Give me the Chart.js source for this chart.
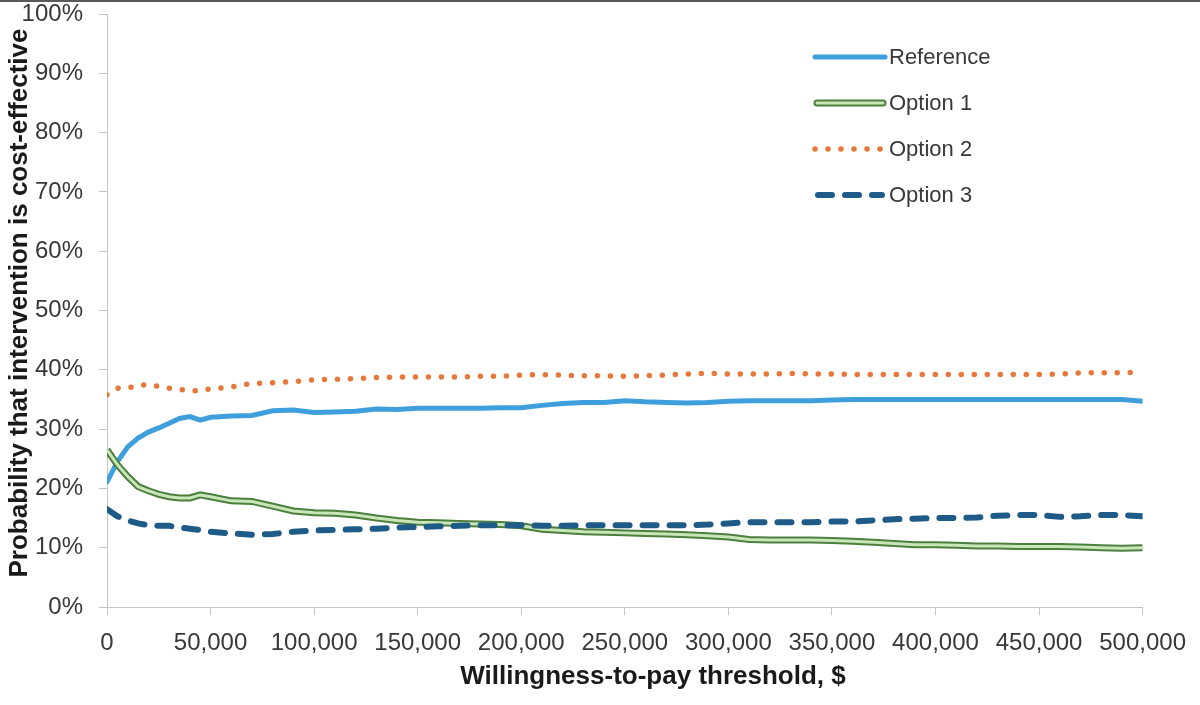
<!DOCTYPE html>
<html>
<head>
<meta charset="utf-8">
<script src="https://cdn.jsdelivr.net/npm/chart.js@4.4.1/dist/chart.umd.min.js"></script>
<style>
  html, body { margin: 0; padding: 0; background: #ffffff; }
  #wrap { width: 1200px; height: 705px; }
</style>
</head>
<body>
<div id="wrap"><canvas id="ceacChart" width="1200" height="705"></canvas></div>
<script>
// WTP thresholds ($) and probability (%) that each option is cost-effective
const wtpThresholds = [
    0, 5000, 10000, 15000, 20000, 25000, 30000, 35000, 40000, 45000,
    50000, 60000, 70000, 80000, 90000, 100000, 110000, 120000, 130000, 140000,
    150000, 160000, 170000, 180000, 190000, 200000, 210000, 220000, 230000, 240000,
    250000, 260000, 270000, 280000, 290000, 300000, 310000, 320000, 330000, 340000,
    350000, 360000, 370000, 380000, 390000, 400000, 410000, 420000, 430000, 440000,
    450000, 460000, 470000, 480000, 490000, 500000
];

const referenceProb = [
    21.1, 24.5, 27.0, 28.5, 29.5, 30.2, 31.0, 31.8, 32.1, 31.5,
    32.0, 32.2, 32.3, 33.1, 33.2, 32.8, 32.9, 33.0, 33.4, 33.3,
    33.5, 33.5, 33.5, 33.5, 33.6, 33.6, 34.0, 34.3, 34.5, 34.5,
    34.8, 34.6, 34.5, 34.4, 34.5, 34.7, 34.8, 34.8, 34.8, 34.8,
    34.9, 35.0, 35.0, 35.0, 35.0, 35.0, 35.0, 35.0, 35.0, 35.0,
    35.0, 35.0, 35.0, 35.0, 35.0, 34.7
];

const option1Prob = [
    26.5, 24.0, 22.0, 20.3, 19.6, 19.0, 18.6, 18.4, 18.4, 18.9,
    18.6, 17.9, 17.8, 17.0, 16.2, 15.9, 15.8, 15.5, 15.0, 14.6,
    14.3, 14.2, 14.1, 14.0, 13.9, 13.7, 13.1, 12.9, 12.7, 12.6,
    12.5, 12.4, 12.3, 12.2, 12.0, 11.8, 11.4, 11.3, 11.3, 11.3,
    11.2, 11.1, 10.9, 10.7, 10.5, 10.5, 10.4, 10.3, 10.3, 10.2,
    10.2, 10.2, 10.1, 10.0, 9.9, 10.0
];

const option2Prob = [
    35.8, 36.9, 36.9, 37.4, 37.5, 37.2, 36.9, 36.7, 36.4, 36.5,
    36.8, 37.1, 37.7, 37.8, 38.0, 38.3, 38.4, 38.5, 38.7, 38.8,
    38.8, 38.8, 38.8, 38.9, 38.9, 39.1, 39.2, 39.1, 39.0, 39.0,
    38.9, 39.0, 39.1, 39.3, 39.4, 39.3, 39.3, 39.3, 39.4, 39.3,
    39.3, 39.2, 39.2, 39.2, 39.2, 39.2, 39.2, 39.2, 39.2, 39.2,
    39.2, 39.3, 39.5, 39.5, 39.5, 39.6
];

const option3Prob = [
    16.5, 15.3, 14.6, 14.1, 13.8, 13.7, 13.7, 13.4, 13.2, 13.0,
    12.7, 12.4, 12.2, 12.3, 12.7, 12.9, 13.0, 13.1, 13.2, 13.4,
    13.5, 13.6, 13.7, 13.8, 13.8, 13.8, 13.7, 13.7, 13.8, 13.8,
    13.8, 13.8, 13.8, 13.8, 13.9, 14.1, 14.3, 14.3, 14.3, 14.3,
    14.4, 14.4, 14.6, 14.8, 14.9, 15.0, 15.0, 15.1, 15.4, 15.5,
    15.5, 15.2, 15.3, 15.5, 15.5, 15.3
];

const seriesNames = ['Reference', 'Option 1', 'Option 2', 'Option 3'];
const xAxisTitle = 'Willingness-to-pay threshold, $';
const yAxisTitle = 'Probability that intervention is cost-effective';

const colors = {
    reference: '#3f9fdc',
    opt1Outer: '#4c7f3e',
    opt1Inner: '#c9e6b8',
    opt2: '#e8773a',
    opt3: '#1f5b87',
    axis: '#c4c4c4',
    text: '#383838',
    title: '#1a1a1a'
};

const FONT = '"Liberation Sans", Arial, sans-serif';

function toPoints(values) {
    return wtpThresholds.map((x, i) => ({ x: x, y: values[i] }));
}

// top frame line + axis titles (placed like the Excel original)
const framePlugin = {
    id: 'frame',
    afterDraw(chart) {
        const ctx = chart.ctx;
        ctx.save();
        ctx.fillStyle = '#5a5a5a';
        ctx.fillRect(0, 0, chart.width, 2);

        ctx.fillStyle = colors.title;
        ctx.font = 'bold 26px ' + FONT;
        ctx.textAlign = 'center';
        ctx.textBaseline = 'middle';
        ctx.fillText(xAxisTitle, 653, 677);

        ctx.translate(20, 303);
        ctx.rotate(-Math.PI / 2);
        ctx.fillText(yAxisTitle, 0, 0);
        ctx.restore();
    }
};

// Excel-style legend sitting inside the plot area
const legendPlugin = {
    id: 'insideLegend',
    afterDatasetsDraw(chart) {
        const ctx = chart.ctx;
        const x0 = 815, x1 = 885, tx = 889;
        const rows = [57, 103, 149, 195];
        ctx.save();
        ctx.lineCap = 'round';

        // Reference
        ctx.strokeStyle = colors.reference;
        ctx.lineWidth = 5;
        ctx.setLineDash([]);
        ctx.beginPath(); ctx.moveTo(x0, rows[0]); ctx.lineTo(x1, rows[0]); ctx.stroke();

        // Option 1 (double line)
        ctx.strokeStyle = colors.opt1Outer;
        ctx.lineWidth = 7;
        ctx.beginPath(); ctx.moveTo(x0 + 2, rows[1]); ctx.lineTo(x1 - 2, rows[1]); ctx.stroke();
        ctx.strokeStyle = colors.opt1Inner;
        ctx.lineWidth = 3;
        ctx.beginPath(); ctx.moveTo(x0 + 2, rows[1]); ctx.lineTo(x1 - 2, rows[1]); ctx.stroke();

        // Option 2 (dots)
        ctx.strokeStyle = colors.opt2;
        ctx.lineWidth = 5.5;
        ctx.setLineDash([0, 13]);
        ctx.beginPath(); ctx.moveTo(x0, rows[2]); ctx.lineTo(x1, rows[2]); ctx.stroke();

        // Option 3 (dashes)
        ctx.strokeStyle = colors.opt3;
        ctx.lineWidth = 6;
        ctx.setLineDash([14, 13]);
        ctx.beginPath(); ctx.moveTo(x0 + 3, rows[3]); ctx.lineTo(x1 - 3, rows[3]); ctx.stroke();

        ctx.setLineDash([]);
        ctx.fillStyle = colors.text;
        ctx.font = '22px ' + FONT;
        ctx.textAlign = 'left';
        ctx.textBaseline = 'middle';
        seriesNames.forEach((name, i) => ctx.fillText(name, tx, rows[i] + 1));
        ctx.restore();
    }
};

function renderChart() {
    const ctx = document.getElementById('ceacChart').getContext('2d');

    new Chart(ctx, {
        type: 'line',
        data: {
            datasets: [
                {
                    label: 'Reference',
                    data: toPoints(referenceProb),
                    borderColor: colors.reference,
                    borderWidth: 5,
                    borderCapStyle: 'round',
                    order: 5
                },
                {
                    label: 'Option 1',
                    data: toPoints(option1Prob),
                    borderColor: colors.opt1Outer,
                    borderWidth: 7,
                    order: 4
                },
                {
                    label: 'Option 1 inner',
                    data: toPoints(option1Prob),
                    borderColor: colors.opt1Inner,
                    borderWidth: 3,
                    order: 3
                },
                {
                    label: 'Option 2',
                    data: toPoints(option2Prob),
                    borderColor: colors.opt2,
                    borderWidth: 5.5,
                    borderDash: [0, 13],
                    borderCapStyle: 'round',
                    order: 2
                },
                {
                    label: 'Option 3',
                    data: toPoints(option3Prob),
                    borderColor: colors.opt3,
                    borderWidth: 6,
                    borderDash: [14, 13],
                    borderCapStyle: 'round',
                    order: 1
                }
            ]
        },
        options: {
            responsive: false,
            animation: false,
            parsing: false,
            elements: {
                point: { radius: 0 },
                line: { tension: 0, fill: false }
            },
            layout: { padding: { top: 14, right: 57, left: 0, bottom: 0 } },
            plugins: {
                legend: { display: false },
                tooltip: { enabled: false }
            },
            scales: {
                x: {
                    type: 'linear',
                    min: 0,
                    max: 500000,
                    afterFit(scale) { scale.height = 98; },
                    border: { display: true, color: colors.axis, width: 1 },
                    grid: { display: true, drawOnChartArea: false, drawTicks: true, tickLength: 8, color: colors.axis },
                    ticks: {
                        stepSize: 50000,
                        autoSkip: false,
                        maxRotation: 0,
                        padding: 14,
                        color: colors.text,
                        font: { family: FONT, size: 24 },
                        callback: (v) => v.toLocaleString('en-US')
                    },
                    title: { display: false }
                },
                y: {
                    min: 0,
                    max: 100,
                    afterFit(scale) {
                        scale.width = 107;
                        scale.paddingTop = 0;
                        scale.paddingBottom = 0;
                    },
                    border: { display: true, color: colors.axis, width: 1 },
                    grid: { display: true, drawOnChartArea: false, drawTicks: true, tickLength: 8, color: colors.axis },
                    ticks: {
                        stepSize: 10,
                        padding: 16,
                        color: colors.text,
                        font: { family: FONT, size: 24 },
                        callback: (v) => v + '%'
                    },
                    title: { display: false }
                }
            }
        },
        plugins: [framePlugin, legendPlugin]
    });
}

window.onload = function() {
    renderChart();
};
</script>
</body>
</html>
